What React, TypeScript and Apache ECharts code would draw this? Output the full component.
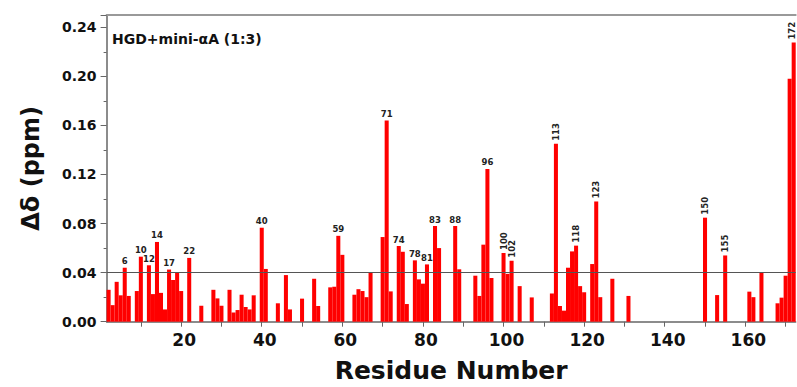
import React, { useEffect, useRef } from "react";
import * as echarts from "echarts";

// Residue numbers shown on the category axis (2 … 172)
const residues: string[] = [];
for (let r = 2; r <= 172; r++) residues.push(String(r));

// Chemical shift perturbation Δδ (ppm) for residues 2 … 172 (null = no data)
const shifts: (number | null)[] = [
  // 2-11
  0.026, 0.0135, 0.0325, 0.0215, 0.044, 0.021, null, 0.025, 0.053, null,
  // 12-21
  0.046, 0.0225, 0.065, 0.0235, 0.010, 0.0425, 0.034, 0.040, 0.025, null,
  // 22-31
  0.052, null, null, 0.013, null, null, 0.026, 0.019, 0.013, null,
  // 32-41
  0.026, 0.0075, 0.0095, 0.022, 0.012, 0.010, 0.0215, null, 0.0766, 0.043,
  // 42-51
  null, null, 0.015, null, 0.038, 0.010, null, null, 0.0188, null,
  // 52-61
  null, 0.035, 0.0128, null, null, 0.028, 0.0285, 0.070, 0.0545, null,
  // 62-71
  null, 0.022, 0.0265, 0.025, 0.020, 0.040, null, null, 0.069, 0.164,
  // 72-81
  0.0247, null, 0.0617, 0.057, 0.0144, null, 0.050, 0.0345, 0.031, 0.0467,
  // 82-91
  null, 0.078, 0.060, null, null, null, 0.078, 0.0427, null, null,
  // 92-101
  null, 0.0375, 0.021, 0.0628, 0.1245, 0.0356, null, null, 0.056, 0.039,
  // 102-111
  0.0497, null, 0.029, null, null, 0.0198, null, null, null, null,
  // 112-121
  0.023, 0.145, 0.0128, 0.009, 0.044, 0.0573, 0.062, 0.029, 0.024, null,
  // 122-131
  0.047, 0.098, 0.020, null, null, 0.035, null, null, null, 0.021,
  // 132-141
  null, null, null, null, null, null, null, null, null, null,
  // 142-151
  null, null, null, null, null, null, null, null, 0.0848, null,
  // 152-161
  null, 0.0217, null, 0.054, null, null, null, null, null, 0.0245,
  // 162-172
  0.020, null, 0.040, null, null, null, 0.015, 0.0196, 0.0375, 0.198, 0.2275,
];

const flatLabels = [6, 10, 12, 14, 17, 22, 40, 59, 71, 74, 78, 81, 83, 88, 96];
const verticalLabels = [100, 102, 113, 118, 123, 150, 155, 172];
const threshold = 0.04;
const titleText = "HGD+mini-\u03b1A (1:3)";
const yAxisName = "\u0394\u03b4 (ppm)";
const xAxisName = "Residue Number";

const FONT = '"DejaVu Sans", Verdana, sans-serif';

export default function App() {
  const ref = useRef<HTMLDivElement>(null);

  useEffect(() => {
    if (!ref.current) return;
    const chart = echarts.init(ref.current, undefined, { renderer: "svg" });

    const lastResidue = Number(residues[residues.length - 1]);
    const data = shifts.map((v, i) => {
      const r = Number(residues[i]);
      if (flatLabels.includes(r)) {
        return { value: v, label: { show: true } };
      }
      if (verticalLabels.includes(r)) {
        return {
          value: v,
          label: {
            show: true,
            rotate: 90,
            align: "left",
            verticalAlign: "middle",
            distance: 3,
            offset: r === lastResidue ? [0, -1.8] : [0, 0],
          },
        };
      }
      return v;
    });

    chart.setOption({
      animation: false,
      backgroundColor: "#ffffff",
      title: {
        text: titleText,
        left: 112,
        top: 32,
        padding: 0,
        textStyle: {
          fontFamily: FONT,
          fontSize: 14,
          fontWeight: "bold",
          color: "#111",
        },
      },
      grid: {
        left: 106.6,
        right: 1.3,
        top: 15,
        bottom: 65.3,
        containLabel: false,
        outerBoundsMode: "none",
      },
      xAxis: [
        {
          type: "category",
          data: residues,
          boundaryGap: true,
          name: xAxisName,
          nameLocation: "middle",
          nameGap: 36,
          nameTextStyle: {
            fontFamily: FONT,
            fontSize: 25,
            fontWeight: "bold",
            color: "#111",
          },
          axisLine: { show: true, lineStyle: { color: "#666", width: 1.5 } },
          axisTick: {
            show: true,
            alignWithLabel: true,
            length: 5,
            interval: (_i: number, v: string) => Number(v) % 10 === 0,
            lineStyle: { color: "#666" },
          },
          axisLabel: {
            interval: (_i: number, v: string) => Number(v) % 20 === 0,
            fontFamily: FONT,
            fontSize: 17,
            fontWeight: "bold",
            color: "#111",
            margin: 10,
            padding: [0, 0, 0, 6],
          },
          splitLine: { show: false },
        },
        {
          type: "category",
          data: residues,
          position: "top",
          boundaryGap: true,
          axisLine: { show: true, lineStyle: { color: "#999", width: 2 } },
          axisTick: { show: false },
          axisLabel: { show: false },
          splitLine: { show: false },
        },
      ],
      yAxis: {
        type: "value",
        min: 0,
        max: 0.25,
        interval: 0.04,
        name: yAxisName,
        nameLocation: "middle",
        nameGap: 64,
        nameTextStyle: {
          fontFamily: FONT,
          fontSize: 24,
          fontWeight: "bold",
          color: "#111",
        },
        axisLine: { show: true, lineStyle: { color: "#666", width: 1.5 } },
        axisTick: { show: true, length: 6, lineStyle: { color: "#666" } },
        minorTick: { show: true, splitNumber: 2, length: 3, lineStyle: { color: "#666" } },
        axisLabel: {
          showMaxLabel: false,
          fontFamily: FONT,
          fontSize: 14,
          fontWeight: "bold",
          color: "#111",
          margin: 10,
          formatter: (v: number) => v.toFixed(2),
        },
        splitLine: { show: false },
      },
      series: [
        {
          type: "bar",
          data,
          barWidth: "100%",
          barCategoryGap: "0%",
          itemStyle: { color: "#ff0000" },
          label: {
            show: false,
            position: "top",
            distance: 2,
            formatter: "{b}",
            fontFamily: FONT,
            fontSize: 8.5,
            fontWeight: "bold",
            color: "#222",
          },
          markLine: {
            silent: true,
            symbol: ["none", "none"],
            label: { show: false },
            lineStyle: { color: "#555", type: "solid", width: 1 },
            data: [{ yAxis: threshold }],
          },
        },
      ],
    });

    return () => chart.dispose();
  }, []);

  return (
    <div
      ref={ref}
      style={{ position: "absolute", left: 0, top: 0, width: 797, height: 387 }}
    />
  );
}
